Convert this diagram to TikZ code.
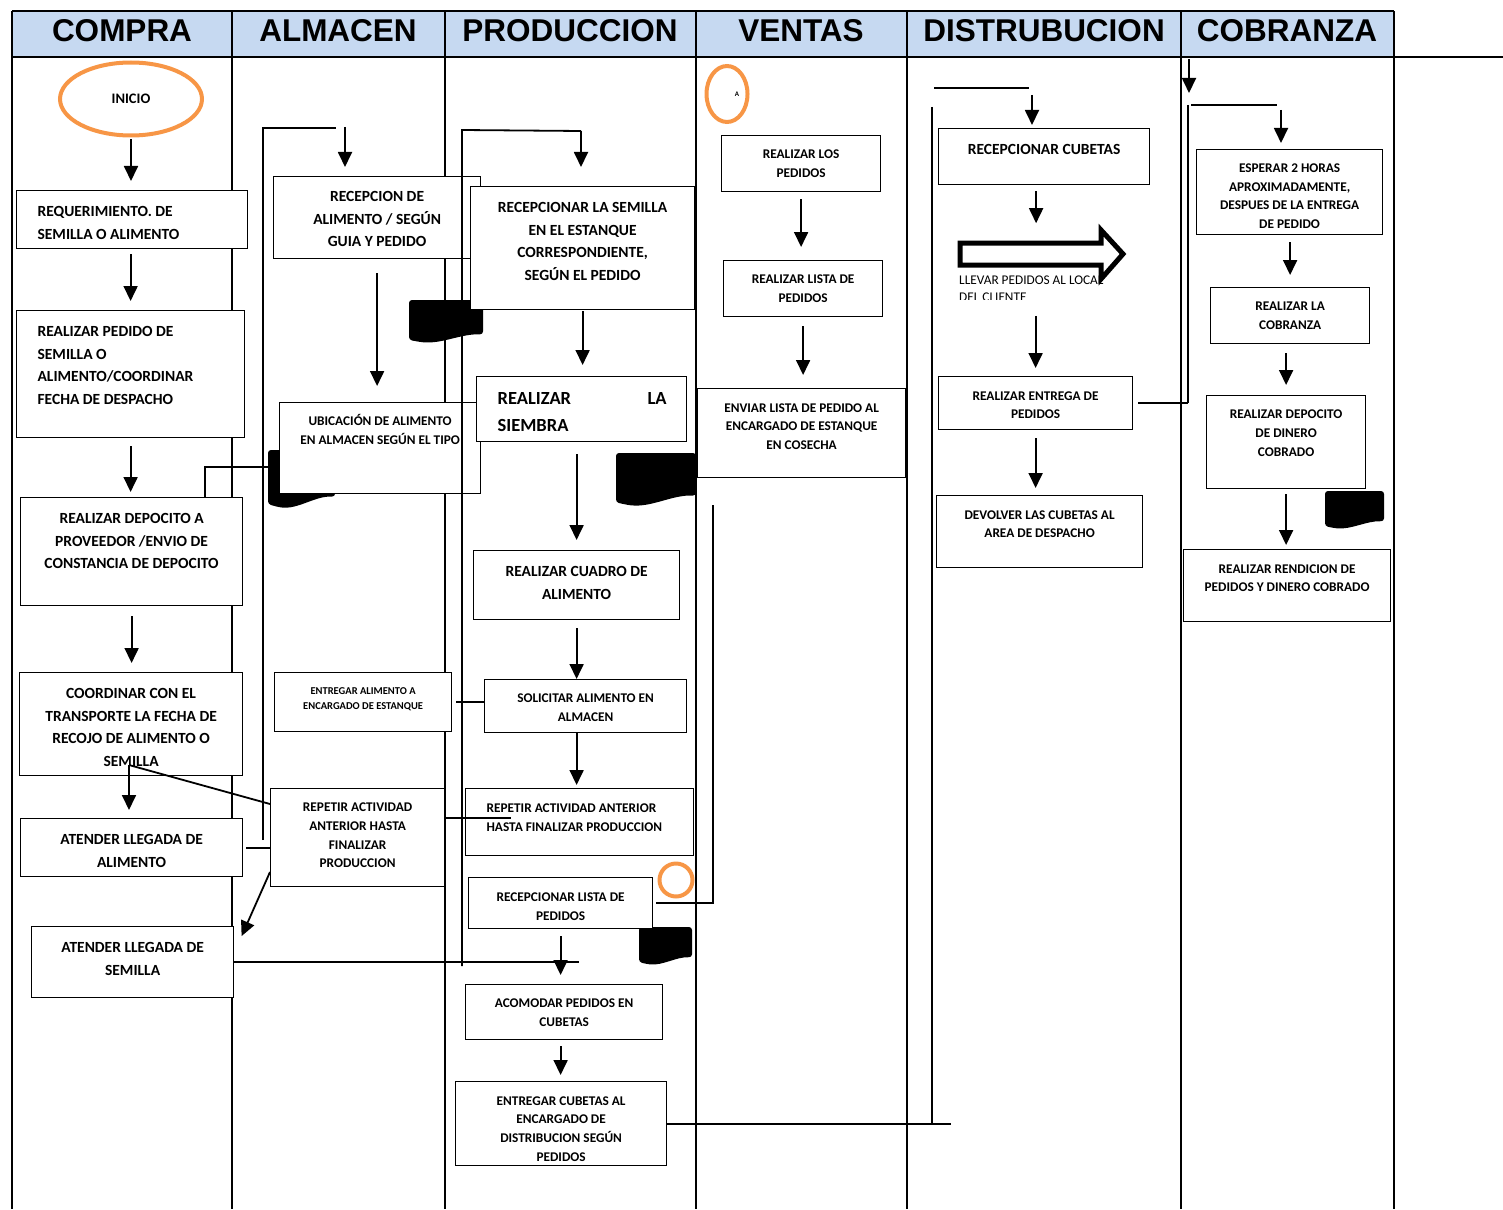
\documentclass[tikz,border=0pt]{standalone}
\usepackage{fontspec}
\setmainfont{Carlito}
\newfontfamily\headfont{Liberation Sans}
\usepackage{tikz}
\usetikzlibrary{arrows.meta,shapes.geometric}
\definecolor{headblue}{HTML}{C6D9F1}
\definecolor{ringorange}{HTML}{F79646}
\newcommand{\cbox}[4]{\parbox[t][#2pt][t]{#1pt}{\centering\rule{0pt}{#3pt}#4}}
\newcommand{\lbox}[5]{\parbox[t][#2pt][t]{#1pt}{\raggedright\leftskip=#4pt\rule{0pt}{#3pt}#5}}

\begin{document}
\begin{tikzpicture}
[x=1pt,y=-1pt
,lane/.style={line width=2pt}
,lanehead/.style={anchor=base,inner sep=0pt,font=\headfont\bfseries\fontsize{31.5}{34}\selectfont}
,stepbox/.style={draw,fill=white,line width=1.2pt,inner sep=0pt,anchor=north west}
,bigbox/.style={stepbox,font=\fontsize{15.5}{22.6}\selectfont\bfseries}
,smallbox/.style={stepbox,font=\fontsize{13.3}{18.7}\selectfont\bfseries}
,ring/.style={ellipse,draw=ringorange,line width=4pt,inner sep=0pt}
,flow/.style={draw=black,line width=1.8pt,arrows={-Triangle[length=15pt,width=14pt]}}
,link/.style={draw=black,line width=1.8pt}
,blob/.pic={\fill[rounded corners=3pt] (0,0) -- (1,0) -- (1,0.82) .. controls (0.7,0.8) and (0.45,1.05) .. (0.15,1) -- (0,0.95) -- cycle;}
]
\useasboundingbox (0,0) rectangle (1503,1209);
\fill[headblue] (12,11) rectangle (1394,57);
\foreach \hx/\lname in {122/COMPRA,338/ALMACEN,570/PRODUCCION,801/VENTAS,1044/DISTRUBUCION,1287/COBRANZA}
  \node[lanehead] (h\lname) at (\hx,41.5) {\lname};
\foreach \lx in {12,232,445,696,907,1181,1394}
  \draw[lane] (\lx,11) -- (\lx,1209);
\draw[lane] (12,11) -- (1394,11);
\draw[lane] (12,57) -- (1503,57);

\path (268,450) pic[xscale=67,yscale=57] {blob};
\path (409,300) pic[xscale=74,yscale=42] {blob};
\path (616,453) pic[xscale=80,yscale=52] {blob};
\path (639,927) pic[xscale=53,yscale=37] {blob};
\path (1325,491) pic[xscale=59,yscale=37] {blob};

\node[ring,minimum width=142pt,minimum height=73pt,font=\fontsize{14.5}{16}\selectfont\bfseries] (ini) at (131,99) {INICIO};
\node[ring,minimum width=41pt,minimum height=56pt,font=\fontsize{7}{8}\selectfont\bfseries] (a) at (727,94) {\hspace*{20pt}A};
\node[ring,circle,minimum size=33pt] (rc) at (676,880) {};

\node[bigbox] (req) at (16,190) {\lbox{231}{58}{26}{21}{REQUERIMIENTO. DE\\SEMILLA O ALIMENTO}};
\node[bigbox] (ped) at (16,310) {\lbox{228}{127}{26}{21}{REALIZAR PEDIDO DE\\SEMILLA O\\ALIMENTO/COORDINAR\\FECHA DE DESPACHO}};
\node[bigbox] (dep) at (20,497) {\cbox{222}{108}{26}{REALIZAR DEPOCITO A\\PROVEEDOR /ENVIO DE\\CONSTANCIA DE DEPOCITO}};
\node[bigbox] (coo) at (19,672) {\cbox{223}{103}{26}{COORDINAR CON EL\\TRANSPORTE LA FECHA DE\\RECOJO DE ALIMENTO O\\SEMILLA}};
\node[bigbox] (ali) at (20,818) {\cbox{222}{58}{26}{ATENDER LLEGADA DE\\ALIMENTO}};
\node[bigbox] (sem) at (31,926) {\cbox{202}{71}{26}{ATENDER LLEGADA DE\\SEMILLA}};

\node[bigbox] (rec) at (273,176) {\cbox{207}{82}{25}{RECEPCION DE\\ALIMENTO / SEGÚN\\GUIA Y PEDIDO}};
\node[smallbox] (ubi) at (279,402) {\cbox{201}{91}{23}{UBICACIÓN DE ALIMENTO\\EN ALMACEN SEGÚN EL TIPO}};
\node[stepbox,font=\fontsize{10.5}{15}\selectfont\bfseries] (ent) at (274,672) {\cbox{177}{59}{22}{ENTREGAR ALIMENTO A\\ENCARGADO DE ESTANQUE}};
\node[smallbox] (rep) at (270,788) {\cbox{174}{98}{23}{REPETIR ACTIVIDAD\\ANTERIOR HASTA\\FINALIZAR\\PRODUCCION}};

\node[bigbox] (rsem) at (470,186) {\cbox{224}{123}{26}{RECEPCIONAR LA SEMILLA\\EN EL ESTANQUE\\CORRESPONDIENTE,\\SEGÚN EL PEDIDO}};
\node[stepbox,font=\fontsize{18.5}{27}\selectfont\bfseries] (siem) at (476,376) {\lbox{210}{65}{28}{21}{\makebox[169pt][s]{REALIZAR\hfill LA}\\SIEMBRA}};
\node[bigbox] (cua) at (473,550) {\cbox{206}{69}{26}{REALIZAR CUADRO DE\\ALIMENTO}};
\node[smallbox] (sol) at (484,679) {\cbox{202}{53}{23}{SOLICITAR ALIMENTO EN\\ALMACEN}};
\node[smallbox] (rpp) at (465,788) {\lbox{228}{67}{24}{21}{REPETIR ACTIVIDAD ANTERIOR\\HASTA FINALIZAR PRODUCCION}};
\node[smallbox] (rli) at (468,877) {\cbox{184}{51}{24}{RECEPCIONAR LISTA DE\\PEDIDOS}};
\node[smallbox] (aco) at (465,984) {\cbox{197}{55}{23}{ACOMODAR PEDIDOS EN\\CUBETAS}};
\node[smallbox] (ecu) at (455,1081) {\cbox{211}{84}{23.5}{ENTREGAR CUBETAS AL\\ENCARGADO DE\\DISTRIBUCION SEGÚN\\PEDIDOS}};

\node[smallbox] (rlp) at (721,135) {\cbox{159}{56}{23}{REALIZAR LOS\\PEDIDOS}};
\node[smallbox] (rls) at (723,260) {\cbox{159}{56}{23}{REALIZAR LISTA DE\\PEDIDOS}};
\node[smallbox] (env) at (697,388) {\cbox{208}{89}{23.5}{ENVIAR LISTA DE PEDIDO AL\\ENCARGADO DE ESTANQUE\\EN COSECHA}};

\node[bigbox] (rcu) at (938,128) {\cbox{211}{56}{26}{RECEPCIONAR CUBETAS}};
\node[smallbox] (ren) at (938,376) {\cbox{194}{53}{23.5}{REALIZAR ENTREGA DE\\PEDIDOS}};
\node[smallbox] (dev) at (936,495) {\cbox{206}{72}{23.5}{DEVOLVER LAS CUBETAS AL\\AREA DE DESPACHO}};

\node[smallbox] (esp) at (1196,149) {\cbox{186}{85}{23}{ESPERAR 2 HORAS\\APROXIMADAMENTE,\\DESPUES DE LA ENTREGA\\DE PEDIDO}};
\node[smallbox] (rco) at (1210,287) {\cbox{159}{56}{23}{REALIZAR LA\\COBRANZA}};
\node[smallbox] (rdd) at (1206,395) {\cbox{159}{93}{23}{REALIZAR DEPOCITO\\DE DINERO\\COBRADO}};
\node[smallbox] (rre) at (1183,549) {\cbox{207}{72}{23.5}{REALIZAR RENDICION DE\\PEDIDOS Y DINERO COBRADO}};

\draw[line width=5pt,line join=miter] (960,243) -- (1101,243) -- (1101,230) -- (1123,254) -- (1101,279) -- (1101,265) -- (960,265) -- cycle;
\begin{scope}
\clip (950,268) rectangle (1140,299);
\node[anchor=north west,inner sep=0pt,font=\fontsize{13.3}{17}\selectfont] (llev) at (959,274.3) {\parbox[t]{200pt}{\rule{0pt}{10pt}LLEVAR PEDIDOS AL LOCAL\\DEL CLIENTE}};
\end{scope}

\coordinate (almtop) at (263,128);
\coordinate (almbot) at (263,840);
\coordinate (almin) at (345,127);
\coordinate (prodtop) at (462,130);
\coordinate (prodbot) at (462,966);
\coordinate (prodin) at (581,131);
\coordinate (semtip) at (129,765);
\coordinate (vtop) at (713,505);
\coordinate (dtop) at (932,107);
\coordinate (dend) at (951,1121);
\coordinate (dline) at (934,88);
\coordinate (din) at (1032,95);
\coordinate (cobtop) at (1188,105);
\coordinate (cobin) at (1281,110);
\coordinate (cobhead) at (1189,59);

\draw[flow,shorten <=2pt,shorten >=9pt] (ini) -- (ini |- req.north);
\draw[flow,shorten <=5pt,shorten >=9pt] (req.south -| ped.north) -- (ped.north);
\draw[flow,shorten <=8pt,shorten >=5pt] (ped.south) -- (ped.south |- dep.north);
\draw[flow,shorten <=10pt,shorten >=9pt] (dep.south) -- (dep.south |- coo.north);
\draw[flow,shorten >=8pt] (semtip) -- (semtip |- ali.north);
\draw[link] (semtip) -- ([yshift=-16pt]rep.north west);
\draw[link] ([xshift=3pt]ali.east) -- (ali.east -| rep.west);
\draw[flow,shorten >=1pt] ([yshift=-84pt]rep.north west) -- ([xshift=7pt,yshift=-11pt]sem.north east);
\draw[link] (sem.east) -- ++(345,0);
\draw[link] ([xshift=185pt]dep.north west) |- ++(65,-30);

\draw[link] (almbot) -- (almtop) -- ++(73,0);
\draw[flow,shorten >=9pt] (almin) -- (almin |- rec.north);
\draw[flow,shorten <=14pt,shorten >=16pt] (rec.south) -- (rec.south |- ubi.north);
\draw[link] ([xshift=4pt]ent.east) -- (ent.east -| sol.west);
\draw[link] ([yshift=-30pt]rep.north east) -- ++(66,0);

\draw[link] (prodbot) -- (prodtop) -- (prodin);
\draw[flow,shorten >=19pt] (prodin) -- (prodin |- rsem.north);
\draw[flow,shorten <=1pt,shorten >=11pt] (rsem.south) -- (rsem.south |- siem.north);
\draw[flow,shorten <=12pt,shorten >=10pt] (cua.north |- siem.south) -- (cua.north);
\draw[flow,shorten <=8pt] (cua.south) -- (cua.south |- sol.north);
\draw[flow,shorten >=3pt] (cua.south |- sol.south) -- (cua.south |- rpp.north);
\draw[link] (vtop) |- ([xshift=3pt]rli.east);
\draw[flow,shorten <=7pt,shorten >=9pt] (rli.south) -- (rli.south |- aco.north);
\draw[flow,shorten <=6pt,shorten >=6pt] (rli.south |- aco.south) -- (rli.south |- ecu.north);
\draw[link] (ecu.east) -- (ecu.east -| dend);

\draw[flow,shorten <=7pt,shorten >=13pt] (rlp.south) -- (rlp.south |- rls.north);
\draw[flow,shorten <=9pt,shorten >=13pt] (rls.south) -- (rls.south |- env.north);

\draw[link] (dtop) -- (dtop |- ecu.east);
\draw[link] (dline) -- ++(95,0);
\draw[flow,shorten >=3pt] (din) -- (din |- rcu.north);
\draw[flow,shorten <=6pt] ([xshift=-8pt]rcu.south) -- ++(0,38);
\draw[flow,shorten <=14pt,shorten >=8pt] (llev.south -| ren.north) -- (ren.north);
\draw[flow,shorten <=8pt,shorten >=7pt] (ren.south) -- (ren.south |- dev.north);
\draw[link] ([xshift=5pt]ren.east) -- (ren.east -| cobtop);

\draw[flow] (cobhead) -- ++(0,34);
\draw[link] (cobtop) -- (cobtop |- ren.east);
\draw[link] ([xshift=3pt]cobtop) -- ++(86,0);
\draw[flow,shorten >=6pt] (cobin) -- (cobin |- esp.north);
\draw[flow,shorten <=7pt,shorten >=12pt] (rco.north |- esp.south) -- (rco.north);
\draw[flow,shorten <=9pt,shorten >=10pt] (rdd.north |- rco.south) -- (rdd.north);
\draw[flow,shorten <=5pt,shorten >=4pt] (rdd.south) -- (rdd.south |- rre.north);
\end{tikzpicture}
\end{document}
